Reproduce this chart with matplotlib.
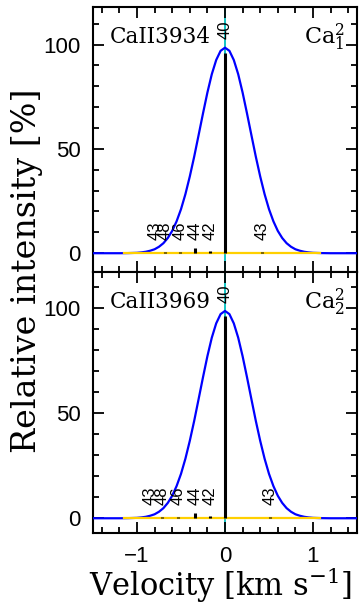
import matplotlib
matplotlib.use("Agg")
import matplotlib.pyplot as plt
from matplotlib.ticker import MultipleLocator, FixedLocator

plt.rcParams['mathtext.fontset'] = 'dejavuserif'

# Fitted profile
prof_v = [-1.5, -1.3, -1.2, -1.1, -1.0, -0.95, -0.9, -0.85, -0.8, -0.75, -0.7, -0.65, -0.6,
          -0.55, -0.5, -0.45, -0.4, -0.35, -0.3, -0.25, -0.2, -0.15, -0.1, -0.05, 0.0,
          0.05, 0.1, 0.15, 0.2, 0.25, 0.3, 0.35, 0.4, 0.45, 0.5, 0.55, 0.6, 0.65, 0.7,
          0.75, 0.8, 0.85, 0.9, 0.95, 1.0, 1.1, 1.2, 1.3, 1.5]
prof_i = [0.0, 0.0, 0.0, 0.06, 0.2, 0.4, 0.7, 1.2, 1.9, 3.1, 4.8, 7.3, 10.7,
          15.3, 21.1, 28.3, 36.8, 46.3, 56.6, 67.0, 77.0, 85.8, 92.6, 97.0, 98.5,
          97.0, 92.6, 85.8, 77.0, 67.0, 56.6, 46.3, 36.8, 28.3, 21.1, 15.3, 10.7, 7.3, 4.8,
          3.1, 1.9, 1.2, 0.7, 0.4, 0.2, 0.06, 0.0, 0.0, 0.0]

# Residual/continuum segment (yellow)
resid_v = [-1.15, 1.08]
resid_i = [0.0, 0.0]

# Components (velocity, relative intensity, label)
comp_labels = ['43', '48', '46', '44', '42', '40', '43']
comp_v_top = [-0.79, -0.68, -0.51, -0.34, -0.17, 0.0, 0.42]
comp_v_bot = [-0.85, -0.72, -0.53, -0.34, -0.17, 0.0, 0.51]
comp_i = [0.3, 0.5, 0.6, 2.4, 1.0, 96.0, 0.4]

panel_lines = ['CaII3934', 'CaII3969']
panel_ions = [r'$\mathrm{Ca}^{2}_{1}$', r'$\mathrm{Ca}^{2}_{2}$']
panel_ylims = [(-9, 118), (-7, 117)]

fig = plt.figure(figsize=(3.61, 6.08), dpi=100)
W, H = 361.0, 608.0
ax_top = fig.add_axes([93 / W, 1 - 272 / H, 264 / W, 265 / H])
ax_bot = fig.add_axes([93 / W, 1 - 533 / H, 264 / W, 261 / H])

for k, (ax, comp_v) in enumerate(zip([ax_top, ax_bot], [comp_v_top, comp_v_bot])):
    ax.axvline(0.0, color='#00BFBF', lw=1.3, zorder=1)
    ax.plot(prof_v, prof_i, color='#0000FF', lw=1.6, zorder=3)
    ax.plot(resid_v, resid_i, color='#FFD000', lw=1.6, zorder=4)
    ax.vlines(comp_v, 0, comp_i, color='black', lw=2.2, zorder=5)
    for v, h, lab in zip(comp_v, comp_i, comp_labels):
        if lab == '40':
            y = 102.5
        else:
            y = 6.5
        ax.text(v, y, lab, rotation=90, ha='center', va='bottom',
                family='Liberation Sans', fontsize=12, zorder=6)
    ax.set_xlim(-1.5, 1.5)
    ax.set_ylim(*panel_ylims[k])
    ax.xaxis.set_major_locator(MultipleLocator(1.0))
    ax.xaxis.set_minor_locator(MultipleLocator(0.2))
    ax.yaxis.set_major_locator(FixedLocator([0, 50, 100]))
    ax.yaxis.set_minor_locator(MultipleLocator(10))
    ax.tick_params(which='both', direction='in', top=True, right=True, width=1.3)
    ax.tick_params(which='major', length=8, pad=9)
    ax.tick_params(which='minor', length=4.3)
    for sp in ax.spines.values():
        sp.set_linewidth(1.5)
    for lbl in ax.get_yticklabels():
        lbl.set_fontfamily('Liberation Sans')
        lbl.set_fontsize(16)
    ax.text(0.065, 0.885, panel_lines[k], transform=ax.transAxes, ha='left', va='center',
            family='DejaVu Serif', fontsize=15.5)
    ax.text(0.955, 0.885, panel_ions[k], transform=ax.transAxes, ha='right', va='center',
            fontsize=16)

ax_top.tick_params(labelbottom=False)
ax_bot.tick_params(axis='x', pad=9)
for lbl in ax_bot.get_xticklabels():
    lbl.set_fontfamily('Liberation Sans')
    lbl.set_fontsize(16)

fig.text(0.076, 0.554, 'Relative intensity [%]', rotation=90, ha='center', va='center',
         family='DejaVu Serif', fontsize=24)
fig.text(0.61, 0.038, r'Velocity [km s$^{-1}$]', ha='center', va='center',
         family='DejaVu Serif', fontsize=22)

fig.savefig('out.png', dpi=100)
